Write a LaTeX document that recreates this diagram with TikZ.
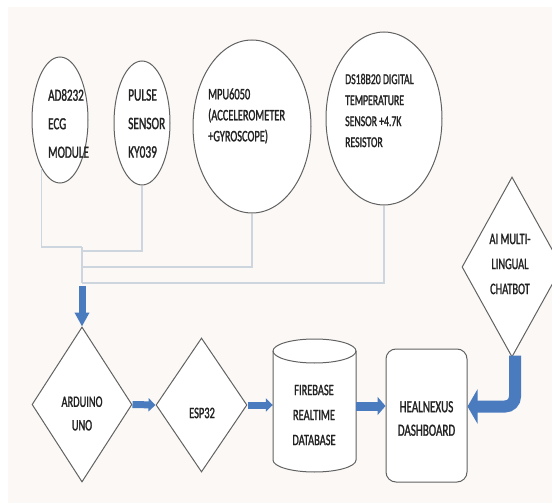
\documentclass[tikz,border=0pt]{standalone}
\usepackage{fontspec}
\setmainfont[FakeStretch=0.65,FakeBold=1.3]{Carlito}
\usetikzlibrary{shapes.geometric,arrows.meta,calc}
\definecolor{bg}{HTML}{FBF8F6}
\definecolor{edge}{HTML}{626262}
\definecolor{wire}{HTML}{CDD6DF}
\definecolor{barrow}{HTML}{4A7BBE}
\definecolor{ink}{HTML}{222222}
\begin{document}
\begin{tikzpicture}[x=1pt,y=-1pt,
  shapebox/.style={draw=edge, line width=1.0pt, fill=white, inner sep=0pt},
  sensor/.style={shapebox, ellipse},
  gate/.style={shapebox, diamond},
  lbl/.style={inner sep=0pt, text=ink},
  wireline/.style={draw=wire, line width=1.8pt},
  blockarrow/.style n args={3}{draw=barrow, line width=#1, -{Triangle[length=#2, width=#3]}}
]
\useasboundingbox (0,0) rectangle (552,503);
\clip (0,0) rectangle (552,503);
\fill[white] (0,0) rectangle (552,503);
\fill[bg] (8,7) rectangle (552,503);

% sensors
\node[sensor, minimum width=56pt, minimum height=126pt] (e1) at (60,120) {};
\node[sensor, minimum width=56pt, minimum height=124pt] (e2) at (142,123) {};
\node[sensor, minimum width=118pt, minimum height=173pt] (e3) at (252,126.5) {};
\node[sensor, minimum width=116pt, minimum height=173pt] (e4) at (384,118.5) {};

% junctions of the wire bus
\coordinate (j1) at (82,247);
\coordinate (j2) at (82,251);
\coordinate (j3) at (82,267);
\coordinate (j4) at (82,283);

\draw[wireline] (e1.249) |- (j1);
\draw[wireline] (e2.south) |- (j2);
\draw[wireline] (e3.south) |- (j3);
\draw[wireline] (e4.south) |- (j4);
\draw[wireline] (j1) -- (j4);

% processing chain
\node[gate, minimum width=100pt, minimum height=155pt] (ard) at (82,404.5) {};
\node[gate, minimum width=91pt, minimum height=134pt] (esp) at (201.5,405) {};
\node[gate, minimum width=100pt, minimum height=180pt] (chat) at (512,267) {};

% firebase cylinder
\node[inner sep=0pt, minimum width=83pt, minimum height=132pt] (fb) at (314.5,406) {};
\path[shapebox] (273,351) -- (273,460)
  arc[start angle=180, end angle=360, x radius=41.5pt, y radius=12pt]
  -- (356,351)
  arc[start angle=0, end angle=180, x radius=41.5pt, y radius=12pt] -- cycle;
\draw[draw=edge, line width=1.0pt] (273,351)
  arc[start angle=180, end angle=360, x radius=41.5pt, y radius=12pt];

\node[shapebox, rectangle, rounded corners=10pt, minimum width=81pt, minimum height=133pt] (dash) at (426.5,415.5) {};

% texts
\node[lbl, anchor=west, align=left, font=\fontsize{17}{28.5}\selectfont] (t1) at (48,123.5) {AD8232\\ECG\\MODULE};
\node[lbl, anchor=west, align=left, font=\fontsize{17.5}{28.5}\selectfont] (t2) at (128,123.5) {PULSE\\SENSOR\\KY039};
\node[lbl, anchor=west, align=left, font=\fontsize{16}{21}\selectfont] (t3) at (208,116) {MPU6050\\(ACCELEROMETER\\+GYROSCOPE)};
\node[lbl, anchor=west, align=left, font=\fontsize{15}{21}\selectfont] (t4) at (345,110.5) {DS18B20 DIGITAL\\TEMPERATURE\\SENSOR +4.7K\\RESISTOR};
\node[lbl, align=center, font=\fontsize{16}{23.5}\selectfont] (ta) at (82,413.5) {ARDUINO\\UNO};
\node[lbl, align=center, font=\fontsize{16}{20}\selectfont] (te) at (202,413) {ESP32};
\node[lbl, align=center, font=\fontsize{16}{25}\selectfont] (tf) at (314,415) {FIREBASE\\REALTIME\\DATABASE};
\node[lbl, align=center, font=\fontsize{17}{23.5}\selectfont] (td) at (426.5,418.5) {HEALNEXUS\\DASHBOARD};
\node[lbl, align=center, font=\fontsize{16}{25}\selectfont] (tc) at (510,264) {AI MULTI-\\LINGUAL\\CHATBOT};

% block arrows
\draw[blockarrow={7pt}{14pt}{14pt}] ($(j4)+(0,3)$) -- (ard.north);
\draw[blockarrow={7pt}{7pt}{13pt}] (ard.east) -- (esp.west);
\draw[blockarrow={7pt}{7pt}{13pt}] (esp.east) -- (esp.east -| fb.west);
\draw[blockarrow={9pt}{8pt}{18pt}] (fb.east) -- (fb.east -| dash.west);
\draw[blockarrow={12pt}{10pt}{34pt}, rounded corners=10pt] ($(chat.south)+(3,-2)$) |- ($(dash.east)+(0,-9)$);
\end{tikzpicture}
\end{document}
